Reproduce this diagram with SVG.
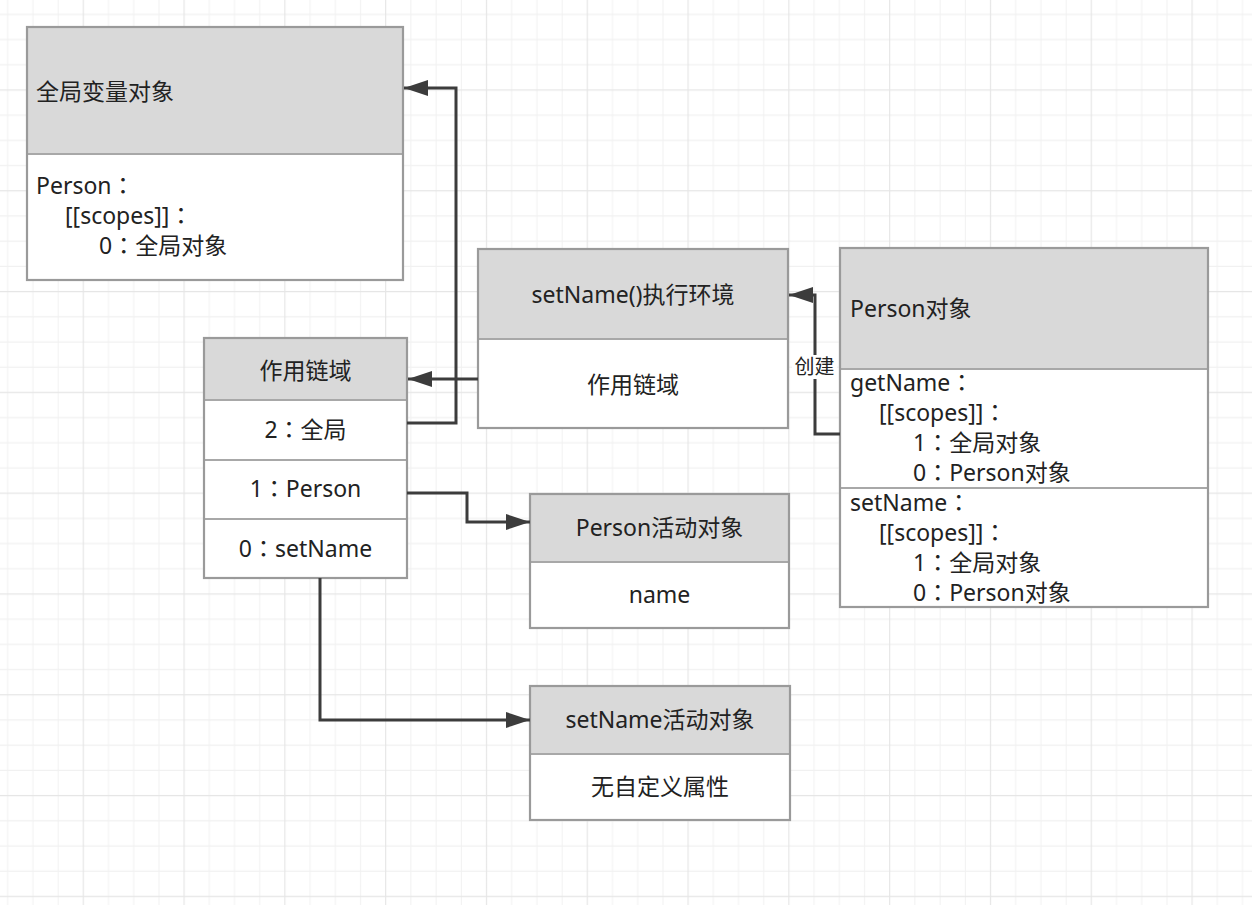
<svg xmlns="http://www.w3.org/2000/svg" width="1252" height="905" viewBox="0 0 1252 905">
<style>
  .box { stroke: #9a9a9a; stroke-width: 2.2; }
  .hdr { fill: #d9d9d9; }
  .body { fill: #ffffff; }
  .div { stroke: #a8a8a8; stroke-width: 2; }
  text { font-family: "Noto Sans", "Noto Sans CJK SC", sans-serif; font-size: 23px; fill: #222222; }
  .k { font-family: "Noto Sans CJK TC", "Noto Sans CJK SC", sans-serif; }
  .c { text-anchor: middle; }
  .lbl { font-size: 20px; }
  .conn { fill: none; stroke: #3c3c3c; stroke-width: 3; }
</style>
<defs>
  <pattern id="grid" patternUnits="userSpaceOnUse" x="70.7" y="77.4" width="100.8" height="100.8">
    <g stroke="#f1f1f1" stroke-width="1">
      <line x1="37.8" y1="0" x2="37.8" y2="100.8"/>
      <line x1="63" y1="0" x2="63" y2="100.8"/>
      <line x1="88.2" y1="0" x2="88.2" y2="100.8"/>
      <line x1="0" y1="37.8" x2="100.8" y2="37.8"/>
      <line x1="0" y1="63" x2="100.8" y2="63"/>
      <line x1="0" y1="88.2" x2="100.8" y2="88.2"/>
    </g>
    <g stroke="#e6e6e6" stroke-width="1.2">
      <line x1="12.6" y1="0" x2="12.6" y2="100.8"/>
      <line x1="0" y1="12.6" x2="100.8" y2="12.6"/>
    </g>
  </pattern>
  <marker id="arrow" markerUnits="userSpaceOnUse" markerWidth="26" markerHeight="18" refX="24" refY="8" orient="auto">
    <path d="M0,0 L24,8 L0,16 Z" fill="#3c3c3c"/>
  </marker>
</defs>
<rect x="0" y="0" width="1252" height="905" fill="#ffffff"/>
<rect x="0" y="0" width="1252" height="905" fill="url(#grid)"/>

<g id="global-var-object">
  <rect class="hdr" x="27" y="27" width="376" height="127"/>
  <rect class="body" x="27" y="154" width="376" height="126"/>
  <line class="div" x1="27" y1="154" x2="403" y2="154"/>
  <rect class="box" x="27" y="27" width="376" height="253" fill="none"/>
  <text x="36" y="100">全局变量对象</text>
  <text x="36" y="194">Person<tspan class="k">：</tspan></text>
  <text x="65" y="224">[[scopes]]<tspan class="k">：</tspan></text>
  <text x="99" y="254">0<tspan class="k">：</tspan>全局对象</text>
</g>

<g id="scope-chain">
  <rect class="hdr" x="204" y="338" width="203" height="62"/>
  <rect class="body" x="204" y="400" width="203" height="178"/>
  <line class="div" x1="204" y1="400" x2="407" y2="400"/>
  <line class="div" x1="204" y1="460" x2="407" y2="460"/>
  <line class="div" x1="204" y1="519" x2="407" y2="519"/>
  <rect class="box" x="204" y="338" width="203" height="240" fill="none"/>
  <text class="c" x="305.5" y="379">作用链域</text>
  <text class="c" x="305.5" y="438">2<tspan class="k">：</tspan>全局</text>
  <text class="c" x="305.5" y="497">1<tspan class="k">：</tspan>Person</text>
  <text class="c" x="305.5" y="557">0<tspan class="k">：</tspan>setName</text>
</g>

<g id="setname-exec-env">
  <rect class="hdr" x="478" y="249" width="310" height="90"/>
  <rect class="body" x="478" y="339" width="310" height="89"/>
  <line class="div" x1="478" y1="339" x2="788" y2="339"/>
  <rect class="box" x="478" y="249" width="310" height="179" fill="none"/>
  <text class="c" x="633" y="303">setName()执行环境</text>
  <text class="c" x="633" y="393">作用链域</text>
</g>

<g id="person-object">
  <rect class="hdr" x="840" y="248" width="368" height="121"/>
  <rect class="body" x="840" y="369" width="368" height="238"/>
  <line class="div" x1="840" y1="369" x2="1208" y2="369"/>
  <line class="div" x1="840" y1="488" x2="1208" y2="488"/>
  <rect class="box" x="840" y="248" width="368" height="359" fill="none"/>
  <text x="850" y="317">Person对象</text>
  <text x="850" y="391">getName<tspan class="k">：</tspan></text>
  <text x="879" y="421">[[scopes]]<tspan class="k">：</tspan></text>
  <text x="913" y="451">1<tspan class="k">：</tspan>全局对象</text>
  <text x="913" y="481">0<tspan class="k">：</tspan>Person对象</text>
  <text x="850" y="511">setName<tspan class="k">：</tspan></text>
  <text x="879" y="541">[[scopes]]<tspan class="k">：</tspan></text>
  <text x="913" y="571">1<tspan class="k">：</tspan>全局对象</text>
  <text x="913" y="601">0<tspan class="k">：</tspan>Person对象</text>
</g>

<g id="person-activation-object">
  <rect class="hdr" x="530" y="494" width="259" height="68"/>
  <rect class="body" x="530" y="562" width="259" height="66"/>
  <line class="div" x1="530" y1="562" x2="789" y2="562"/>
  <rect class="box" x="530" y="494" width="259" height="134" fill="none"/>
  <text class="c" x="659.5" y="536">Person活动对象</text>
  <text class="c" x="659.5" y="603">name</text>
</g>

<g id="setname-activation-object">
  <rect class="hdr" x="530" y="686" width="260" height="68"/>
  <rect class="body" x="530" y="754" width="260" height="66"/>
  <line class="div" x1="530" y1="754" x2="790" y2="754"/>
  <rect class="box" x="530" y="686" width="260" height="134" fill="none"/>
  <text class="c" x="660" y="728">setName活动对象</text>
  <text class="c" x="660" y="795">无自定义属性</text>
</g>

<g id="connectors">
  <path class="conn" d="M407,423 H456 V88 H404" marker-end="url(#arrow)"/>
  <path class="conn" d="M478,379 H408" marker-end="url(#arrow)"/>
  <path class="conn" d="M840,434 H815 V295 H789" marker-end="url(#arrow)"/>
  <path class="conn" d="M407,493 H467 V522 H530" marker-end="url(#arrow)"/>
  <path class="conn" d="M320,578 V720 H530" marker-end="url(#arrow)"/>
  <rect x="792" y="355" width="45" height="24" fill="#ffffff"/>
  <text class="c lbl" x="814.5" y="374">创建</text>
</g>
</svg>
